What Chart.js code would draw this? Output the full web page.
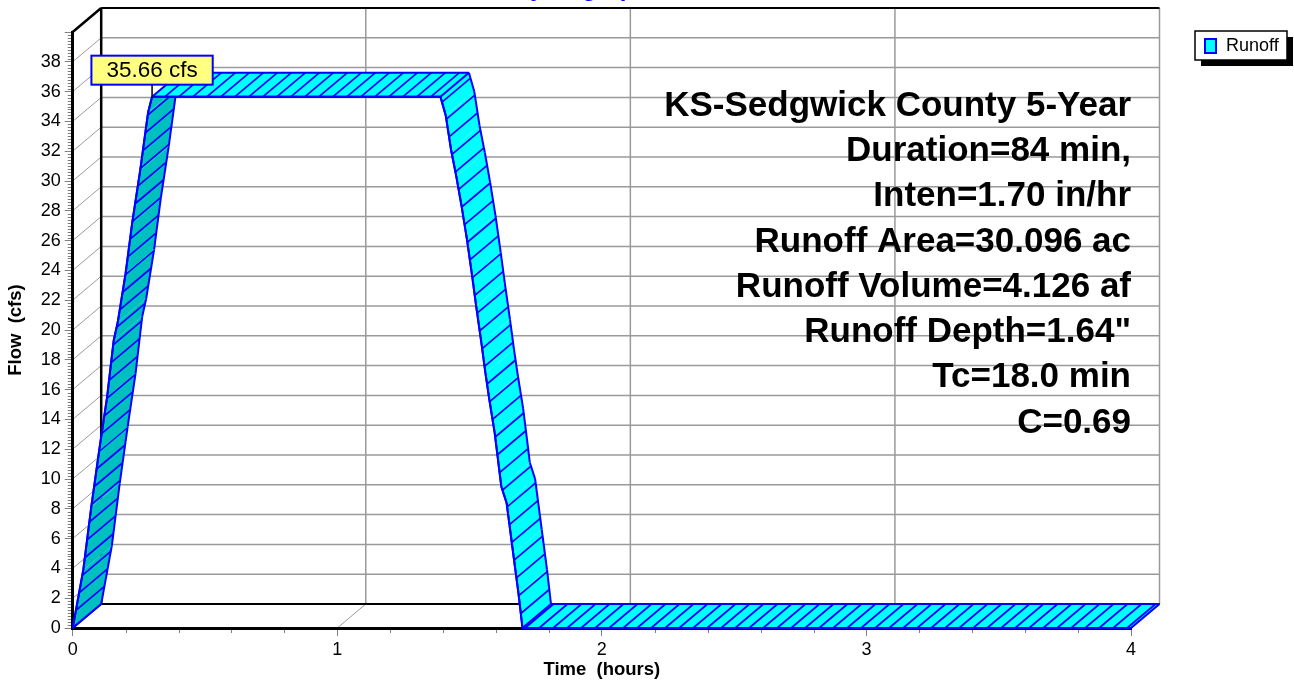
<!DOCTYPE html>
<html>
<head>
<meta charset="utf-8">
<title>Hydrograph</title>
<script src="https://cdn.jsdelivr.net/npm/chart.js@4.4.1/dist/chart.umd.min.js"></script>
<style>
  html, body { margin: 0; padding: 0; background: #fff; }
  #wrap { width: 1294px; height: 685px; position: relative; }
</style>
</head>
<body>
<div id="wrap"><canvas id="hydro"></canvas></div>
<script>
const seriesName = "Runoff";
const chartTitle = "Hydrograph";
const timeHours = [0, 0.04, 0.07, 0.10, 0.13, 0.155, 0.17, 0.20, 0.225, 0.255, 0.285, 0.30,
  1.39, 1.41, 1.43, 1.45, 1.47, 1.49, 1.51, 1.525, 1.545, 1.56, 1.575, 1.595, 1.62, 1.64, 1.665, 1.685, 1.70, 4.0];
const flowCfs = [0, 3.9, 8.1, 11.9, 15.5, 19.3, 20.5, 23.8, 27.2, 30.7, 34.6, 35.66,
  35.66, 34.4, 32.1, 30.3, 28.3, 26.1, 23.6, 21.6, 19.1, 17.1, 15.3, 13.1, 9.5, 8.4, 5.0, 2.3, 0, 0];
const infoLines = [
  "KS-Sedgwick County 5-Year",
  "Duration=84 min,",
  "Inten=1.70 in/hr",
  "Runoff Area=30.096 ac",
  "Runoff Volume=4.126 af",
  "Runoff Depth=1.64\"",
  "Tc=18.0 min",
  "C=0.69"
];

const FONT = "'Liberation Sans', Arial, sans-serif";
const BLUE = "#0000ff";
const CYAN = "#00ffff";
const TEAL = "#00bfbf";
const GRID = "#9a9a9a";
const DX = 28.5, DY = -24;   // depth of the 3D box, px
const HATCH_X = 14, HATCH_Y = 18;

Chart.defaults.font.family = FONT;

function line(ctx, x1, y1, x2, y2) {
  ctx.beginPath();
  ctx.moveTo(x1, y1);
  ctx.lineTo(x2, y2);
  ctx.stroke();
}

const box3d = {
  id: "box3d",
  beforeDraw(chart) {
    const ctx = chart.ctx, xs = chart.scales.x, ys = chart.scales.y;
    const x0 = xs.getPixelForValue(xs.min), x1 = xs.getPixelForValue(xs.max);
    const y0 = ys.getPixelForValue(ys.min), yTop = ys.getPixelForValue(ys.max);
    ctx.save();
    ctx.strokeStyle = GRID;
    ctx.lineWidth = 1.5;
    // back wall horizontal grid + left wall diagonals
    for (let v = 2; v < ys.max; v += 2) {
      const y = ys.getPixelForValue(v);
      line(ctx, x0 + DX, y + DY, x1 + DX, y + DY);
      ctx.lineWidth = 1;
      line(ctx, x0, y, x0 + DX, y + DY);
      ctx.lineWidth = 1.5;
    }
    // back wall verticals + floor diagonals
    for (let t = 1; t <= xs.max; t++) {
      const x = xs.getPixelForValue(t);
      line(ctx, x + DX, yTop + DY, x + DX, y0 + DY);
      ctx.lineWidth = 1;
      if (t < xs.max) line(ctx, x, y0, x + DX, y0 + DY);
      ctx.lineWidth = 1.5;
    }
    // dark edges of the box
    ctx.strokeStyle = "#000";
    ctx.lineWidth = 2;
    line(ctx, x0 + DX, yTop + DY, x1 + DX, yTop + DY);
    line(ctx, x0 + DX, y0 + DY, x1 + DX, y0 + DY);
    ctx.lineWidth = 2.5;
    line(ctx, x0 + DX, yTop + DY, x0 + DX, y0 + DY);
    line(ctx, x0, yTop, x0 + DX, yTop + DY);
    // minor ticks
    ctx.strokeStyle = "#808080";
    ctx.lineWidth = 1;
    for (let k = 1; k < ys.max * 5; k++) {
      if (k % 10 === 0) continue;
      const y = Math.round(ys.getPixelForValue(k / 5)) + 0.5;
      line(ctx, x0 - 5, y, x0, y);
    }
    for (let k = 1; k < xs.max * 5; k++) {
      if (k % 5 === 0) continue;
      const x = Math.round(xs.getPixelForValue(k / 5)) + 0.5;
      line(ctx, x, y0, x, y0 + 5);
    }
    ctx.restore();
  },
  beforeDatasetsDraw(chart) {
    const ctx = chart.ctx;
    const pts = chart.getDatasetMeta(0).data.map(p => ({ x: p.x, y: p.y }));
    const cls = (a, b) => (b.y < a.y - 0.5 ? 1 : b.y > a.y + 0.5 ? -1 : 0);
    ctx.save();
    ctx.lineJoin = "round";
    let pos = 0;   // hatch position, in hatch units
    for (let i = 0; i < pts.length - 1; i++) {
      const a = pts[i], b = pts[i + 1];
      const c = cls(a, b);
      ctx.beginPath();
      ctx.moveTo(a.x, a.y);
      ctx.lineTo(b.x, b.y);
      ctx.lineTo(b.x + DX, b.y + DY);
      ctx.lineTo(a.x + DX, a.y + DY);
      ctx.closePath();
      ctx.fillStyle = c === 1 ? TEAL : CYAN;
      ctx.fill();
      // hatch along the depth direction
      const len = Math.hypot((b.x - a.x) / HATCH_X, (b.y - a.y) / HATCH_Y);
      ctx.strokeStyle = BLUE;
      ctx.lineWidth = 1.7;
      ctx.beginPath();
      for (let d = Math.ceil(pos) - pos; d < len; d += 1) {
        const f = d / len;
        const px = a.x + (b.x - a.x) * f, py = a.y + (b.y - a.y) * f;
        ctx.moveTo(px, py);
        ctx.lineTo(px + DX, py + DY);
      }
      ctx.stroke();
      pos += len;
      // edges
      ctx.lineWidth = 2;
      line(ctx, a.x, a.y, b.x, b.y);
      line(ctx, a.x + DX, a.y + DY, b.x + DX, b.y + DY);
      const prev = i > 0 ? cls(pts[i - 1], a) : null;
      if (i === 0 || prev !== c) line(ctx, a.x, a.y, a.x + DX, a.y + DY);
      if (i === pts.length - 2) line(ctx, b.x, b.y, b.x + DX, b.y + DY);
    }
    ctx.restore();
  },
  afterDatasetsDraw(chart) {
    const ctx = chart.ctx, area = chart.chartArea;
    const meta = chart.getDatasetMeta(0);
    ctx.save();
    // peak callout
    const peak = Math.max(...flowCfs);
    const pi = flowCfs.indexOf(peak);
    const p = meta.data[pi];
    const label = peak.toFixed(2) + " cfs";
    ctx.font = "22.5px " + FONT;
    const w = ctx.measureText(label).width + 30, h = 29;
    const bx = p.x - w / 2, by = p.y - 12 - h;
    ctx.strokeStyle = "#000";
    ctx.lineWidth = 1.5;
    line(ctx, p.x, by + h, p.x, p.y);
    ctx.fillStyle = "#ffff80";
    ctx.fillRect(bx, by, w, h);
    ctx.strokeStyle = BLUE;
    ctx.lineWidth = 2;
    ctx.strokeRect(bx, by, w, h);
    ctx.fillStyle = "#000";
    ctx.textAlign = "center";
    ctx.textBaseline = "middle";
    ctx.fillText(label, p.x, by + h / 2 + 1);

    // info text block
    ctx.font = "bold 35px " + FONT;
    ctx.textAlign = "right";
    infoLines.forEach((s, i) => ctx.fillText(s, area.right, area.top + 74 + i * 45.3));

    // title, mostly cut off at the top edge
    ctx.font = "bold 24px " + FONT;
    ctx.fillStyle = BLUE;
    ctx.textAlign = "center";
    ctx.textBaseline = "alphabetic";
    ctx.fillText(chartTitle, 581, -4);

    // legend
    const lx = 1195, ly = 31, lw = 92, lh = 29;
    ctx.fillStyle = "#000";
    ctx.fillRect(lx + 6, ly + 6, lw, lh);
    ctx.fillStyle = "#fff";
    ctx.fillRect(lx, ly, lw, lh);
    ctx.strokeStyle = "#000";
    ctx.lineWidth = 1.5;
    ctx.strokeRect(lx, ly, lw, lh);
    ctx.fillStyle = CYAN;
    ctx.fillRect(lx + 10, ly + 8, 11, 14);
    ctx.strokeStyle = BLUE;
    ctx.lineWidth = 2;
    ctx.strokeRect(lx + 10, ly + 8, 11, 14);
    ctx.fillStyle = "#000";
    ctx.font = "18px " + FONT;
    ctx.textAlign = "left";
    ctx.textBaseline = "middle";
    ctx.fillText(seriesName, lx + 31, ly + lh / 2 + 1);
    ctx.restore();
  }
};

new Chart(document.getElementById("hydro"), {
  type: "line",
  data: {
    datasets: [{
      label: seriesName,
      data: timeHours.map((t, i) => ({ x: t, y: flowCfs[i] })),
      borderColor: BLUE,
      borderWidth: 2,
      pointRadius: 0,
      fill: false,
      tension: 0,
      clip: false
    }]
  },
  options: {
    responsive: true,
    maintainAspectRatio: false,
    animation: false,
    layout: { padding: { left: 0, top: 32, right: 163, bottom: 0 } },
    plugins: {
      legend: { display: false },
      tooltip: { enabled: false },
      title: { display: false }
    },
    scales: {
      x: {
        type: "linear",
        min: 0,
        max: 4,
        ticks: { stepSize: 1, color: "#000", font: { size: 18 }, padding: 3, maxRotation: 0 },
        grid: { drawOnChartArea: false, tickLength: 8, color: "#808080" },
        border: { color: "#000", width: 3 },
        title: { display: true, text: "Time  (hours)", color: "#000", font: { size: 18.5, weight: "bold" }, padding: { top: 0, bottom: 4 } },
        afterFit: s => { s.height = 57; }
      },
      y: {
        min: 0,
        max: 40,
        ticks: { stepSize: 2, color: "#000", font: { size: 18 }, padding: 4, callback: v => (v < 40 ? v : "") },
        grid: { drawOnChartArea: false, tickLength: 8, color: "#808080" },
        border: { color: "#000", width: 3 },
        title: { display: true, text: "Flow  (cfs)", color: "#000", font: { size: 18.5, weight: "bold" }, padding: { top: 5, bottom: 0 } },
        afterFit: s => { s.width = 72.7; }
      }
    }
  },
  plugins: [box3d]
});
</script>
</body>
</html>
